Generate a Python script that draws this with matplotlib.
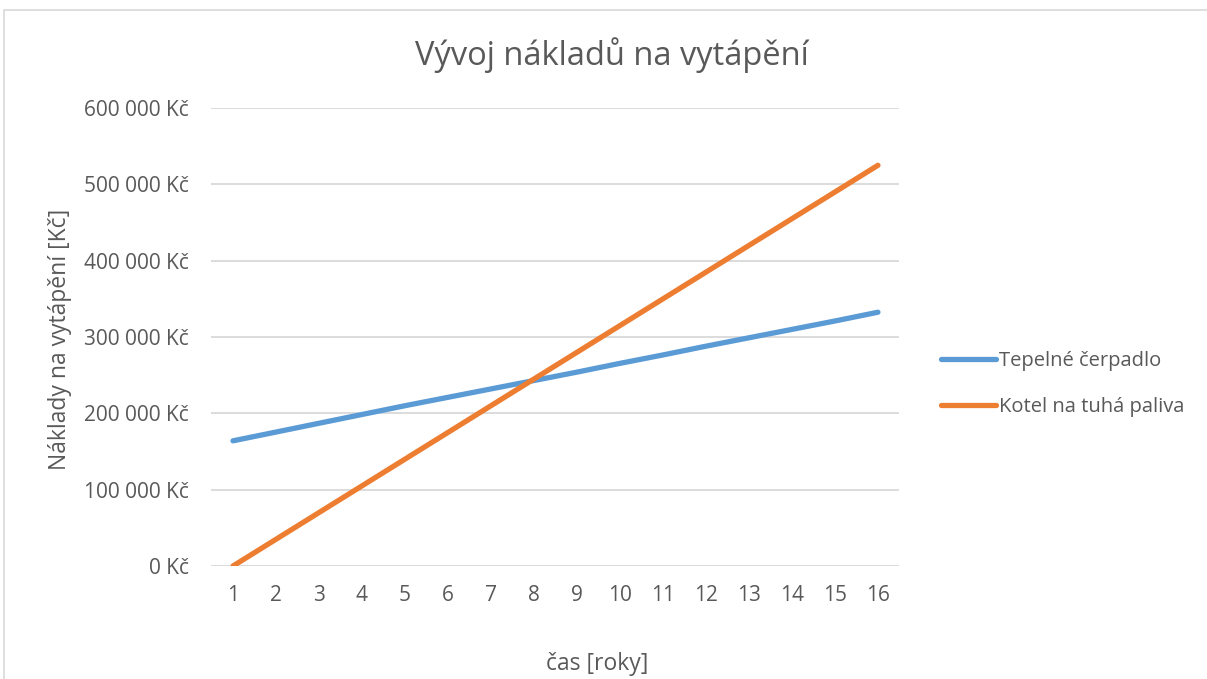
import numpy as np
import matplotlib
matplotlib.use("Agg")
import matplotlib.pyplot as plt
from matplotlib.ticker import FuncFormatter

plt.rcParams['font.family'] = ['Open Sans', 'DejaVu Sans']

years = list(range(1, 17))
# Tepelné čerpadlo (Kč)
cerpadlo = [164000, 175500, 187000, 198500, 210000, 221000, 232000, 243000,
            254000, 265500, 276500, 288000, 299000, 310000, 321000, 332500]
# Kotel na tuhá paliva (Kč)
kotel = [0, 35000, 70000, 105000, 140000, 175000, 210000, 245000,
         280000, 315000, 350000, 385000, 420000, 455000, 490000, 525000]

txt = '#595959'
fig = plt.figure(figsize=(12.07, 6.79), dpi=100)
ax = fig.add_axes([0.1752, 0.1664, 0.570, 0.6745])

ax.plot(years, cerpadlo, color='#5B9BD5', lw=3.8, solid_capstyle='round',
        label='Tepelné čerpadlo', zorder=3)
ax.plot(years, kotel, color='#ED7D31', lw=3.8, solid_capstyle='round',
        label='Kotel na tuhá paliva', zorder=3)

ax.set_xlim(0.5, 16.5)
ax.set_ylim(0, 600000)
ax.set_xticks(years)
ax.set_yticks(np.arange(0, 600001, 100000))
ax.yaxis.set_major_formatter(FuncFormatter(
    lambda v, p: '{:,.0f} Kč'.format(v).replace(',', ' ')))
ax.grid(axis='y', color='#D9D9D9', lw=1.3)
ax.set_axisbelow(True)
for s in ax.spines.values():
    s.set_visible(False)
ax.tick_params(axis='both', length=0, labelsize=15, colors=txt)
ax.tick_params(axis='y', pad=16)
ax.tick_params(axis='x', pad=14)

fig.text(0.507, 0.919, 'Vývoj nákladů na vytápění', fontsize=23.5, color=txt,
         ha='center', va='center')
fig.text(0.495, 0.022, 'čas [roky]', fontsize=16.5, color=txt,
         ha='center', va='center')
fig.text(0.05, 0.5, 'Náklady na vytápění [Kč]', fontsize=16.5, color=txt,
         ha='center', va='center', rotation=90)

leg = ax.legend(loc='center left', bbox_to_anchor=(1.034, 0.398), frameon=False,
                fontsize=14.5, handlelength=2.75, handletextpad=0.15,
                labelspacing=1.3)
for t in leg.get_texts():
    t.set_color(txt)

# chart border
fig.add_artist(plt.Rectangle((0.0035, -0.01), 1.2, 0.996, transform=fig.transFigure,
                             fill=False, ec='#D9D9D9', lw=1.2))

fig.savefig('out.png', dpi=100)
